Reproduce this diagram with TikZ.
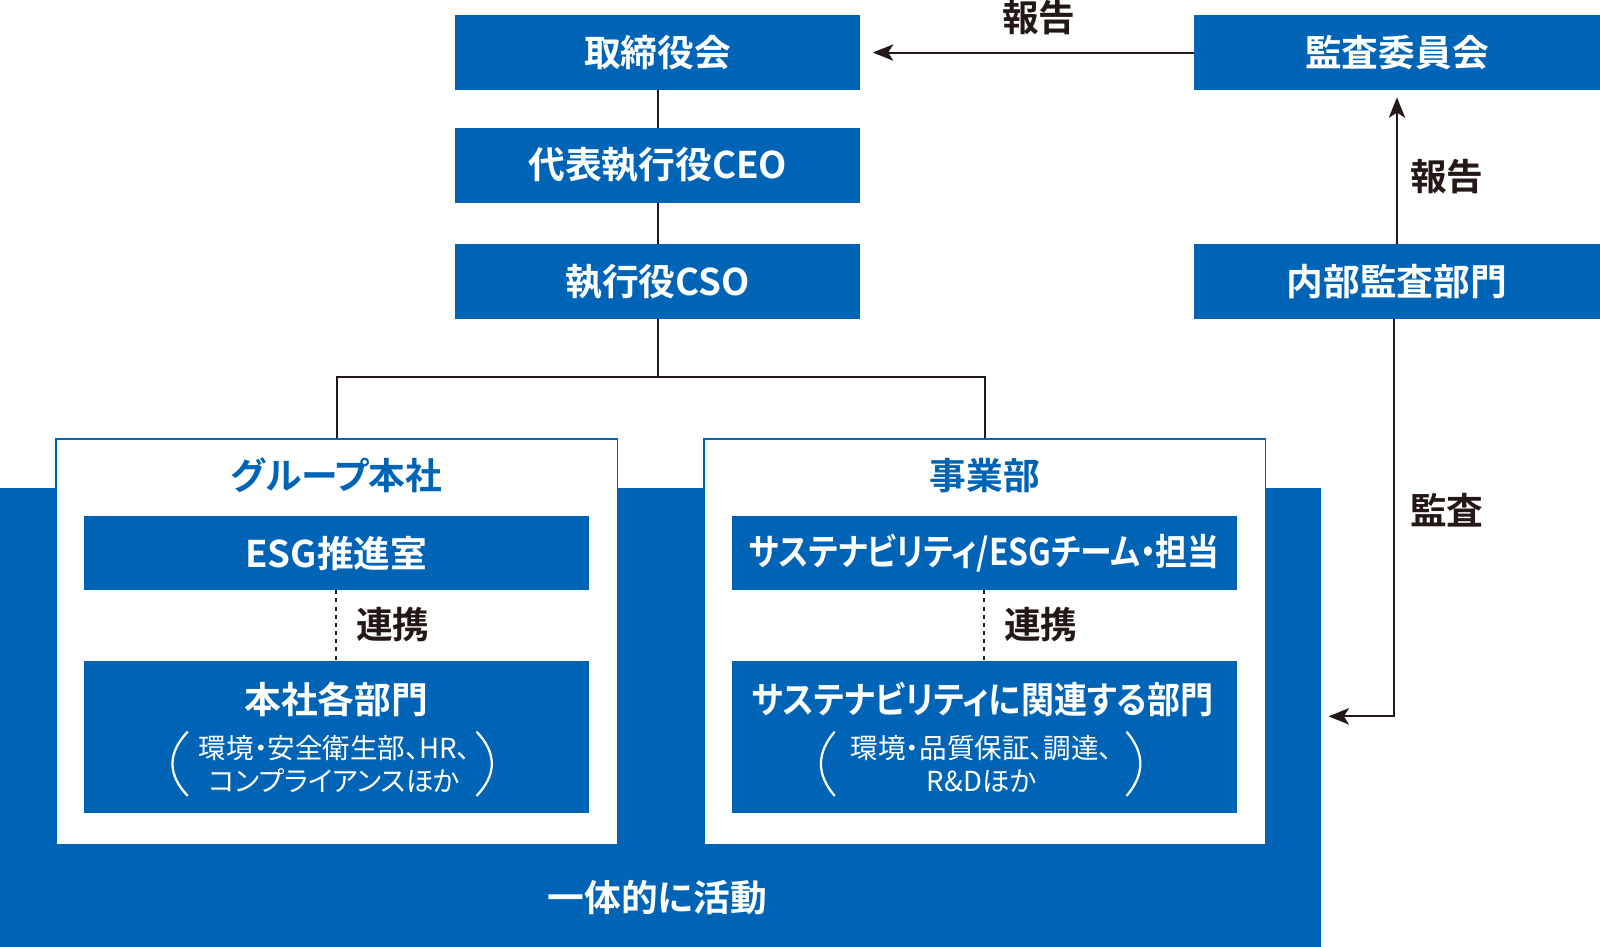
\documentclass[tikz,border=0pt]{standalone}
\usepackage{fontspec}
\setmainfont{Noto Sans CJK JP}[BoldFont=* Bold, RawFeature=+palt]
\usetikzlibrary{arrows.meta}
\definecolor{corpblue}{RGB}{0,100,182}
\definecolor{inkblack}{RGB}{35,24,21}
\begin{document}
\begin{tikzpicture}[x=0.5pt,y=-0.5pt,
    blubox/.style={fill=corpblue, text=white, inner sep=0pt, minimum width=198.5pt, minimum height=36.5pt, font=\bfseries\fontsize{18}{20}\selectfont},
    subbox/.style={blubox, minimum width=247.5pt, minimum height=36pt},
    deptbox/.style={subbox, minimum height=74.5pt},
    depthead/.style={text=white, inner sep=0pt, font=\bfseries\fontsize{18}{20}\selectfont},
    grpbox/.style={draw=corpblue, line width=0.75pt, fill=white, minimum width=275pt, minimum height=199pt, inner sep=0pt},
    grptitle/.style={text=corpblue, font=\bfseries\fontsize{18}{20}\selectfont},
    detail/.style={text=white, inner sep=0pt, font=\fontsize{13.5}{15}\selectfont},
    note/.style={text=inkblack, font=\bfseries\fontsize{18}{20}\selectfont},
    link/.style={draw=inkblack, line width=1pt},
    tip/.style={-{Stealth[length=10pt, width=8pt, inset=2.5pt]}},
    paren/.style={draw=white, line width=1.1pt}]
    \useasboundingbox (0,0) rectangle (1568,928);
    \fill[corpblue] (0,478) rectangle (1295,928);
    \node[blubox] (board) at (644.5,51.5) {取締役会};
    \node[blubox] (ceo) at (644.5,162) {代表執行役CEO};
    \node[blubox] (cso) at (644.5,276) {執行役CSO};
    \node[blubox] (audcom) at (1369,51.5) {監査委員会};
    \node[blubox] (intaud) at (1369,276) {内部監査部門};
    \node[grpbox] (hq) at (330,629) {};
    \node[grpbox] (biz) at (965,629) {};
    \node[grptitle] (hqtitle) at (330,466) {グループ本社};
    \node[grptitle] (biztitle) at (965,466) {事業部};
    \node[subbox] (esg) at (329.5,542) {ESG推進室};
    \node[subbox] (sust) at (964.5,542) {\scalebox{0.865}[1]{サステナビリティ/ESGチーム・担当}};
    \node[deptbox] (hqdept) at (329.5,722.5) {};
    \node[deptbox] (bizdept) at (964.5,722.5) {};
    \node[depthead] (hqname) at (329.5,685) {本社各部門};
    \node[depthead] (bizname) at (963,685) {\scalebox{0.9}[1]{サステナビリティに関連する部門}};
    \node[detail] (hqline1) at (328,733) {環境・安全衛生部、HR、};
    \node[detail] (hqline2) at (328,765) {コンプライアンスほか};
    \node[detail] (bizline1) at (962,733) {環境・品質保証、調達、};
    \node[detail] (bizline2) at (962,765) {R\&Dほか};
    \draw[paren] (184,717) .. controls (164,738) and (164,759) .. (184,780);
    \draw[paren] (467,717) .. controls (487,738) and (487,759) .. (467,780);
    \draw[paren] (818,717) .. controls (800,738) and (800,759) .. (818,780);
    \draw[paren] (1104,717) .. controls (1122,738) and (1122,759) .. (1104,780);
    \node[depthead] (joint) at (644,880) {一体的に活動};
    \draw[link] (board) -- (ceo);
    \draw[link] (ceo) -- (cso);
    \draw[link] (cso.south) -- ++(0,57) coordinate (fork);
    \draw[link] (hq.north) |- (fork) -| (biz.north);
    \draw[link, dash pattern=on 2pt off 2pt] (esg) -- (hqdept);
    \draw[link, dash pattern=on 2pt off 2pt] (sust) -- (bizdept);
    \node[note] (hqcoop) at (385,612) {連携};
    \node[note] (bizcoop) at (1020,612) {連携};
    \draw[link, tip, shorten >=6pt] (audcom) -- (board);
    \node[note] (rep1) at (1018,17) {報告};
    \draw[link, tip, shorten >=3.5pt] (intaud) -- (audcom);
    \node[note] (rep2) at (1418,173) {報告};
    \coordinate (audtgt) at (1302,702);
    \draw[link, tip] ([xshift=-1.5pt]intaud.south) |- (audtgt);
    \node[note] (audit) at (1418,500) {監査};
\end{tikzpicture}
\end{document}
